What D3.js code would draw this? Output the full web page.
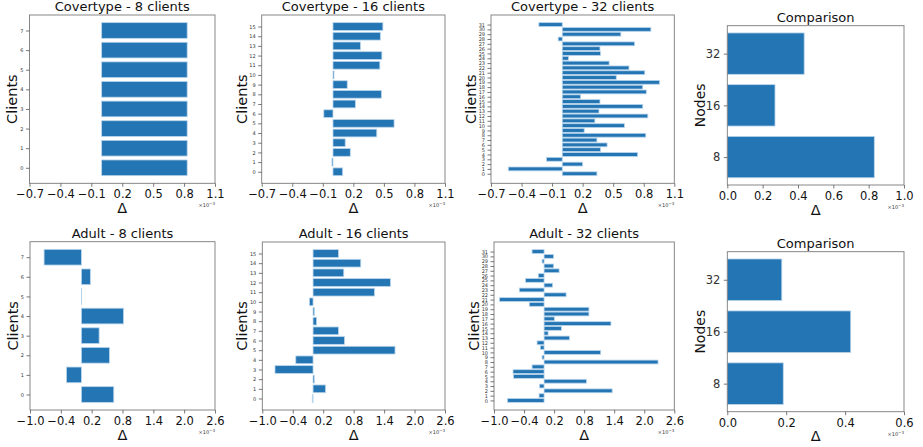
<!DOCTYPE html>
<html>
<head>
<meta charset="utf-8">
<script src="https://cdn.jsdelivr.net/npm/d3@7"></script>
<style>
  body { margin: 0; background: #fff; }
  svg { font-family: "DejaVu Sans", sans-serif; }
</style>
</head>
<body>
<script>
// values, in units of 1e-3
var covertype8 = [0.83, 0.83, 0.83, 0.83, 0.83, 0.83, 0.83, 0.83];
var covertype16 = [0.095, -0.01, 0.17, 0.12, 0.43, 0.60, -0.09, 0.22,
                   0.475, 0.14, 0.01, 0.46, 0.48, 0.27, 0.465, 0.49];
var covertype32 = [0.34, -0.53, 0.20, -0.155, 0.74, 0.375, 0.44, 0.34,
                   0.82, 0.215, 0.61, 0.32, 0.84, 0.36, 0.79, 0.37,
                   0.18, 0.825, 0.79, 0.955, 0.53, 0.81, 0.655, 0.46,
                   0.06, 0.375, 0.37, 0.71, -0.04, 0.575, 0.87, -0.23];
var covertypeCompare = [0.832, 0.27, 0.435];

var adult8 = [0.63, -0.29, 0.545, 0.345, 0.82, 0.005, 0.175, -0.726];
var adult16 = [-0.015, 0.245, 0.025, -0.75, -0.34, 1.615, 0.62, 0.50,
               0.07, 0.025, -0.07, 1.21, 1.525, 0.605, 0.94, 0.50];
var adult32 = [-0.73, -0.10, 1.36, -0.09, 0.845, -0.61, -0.62, -0.24,
               2.275, -0.04, 1.13, -0.075, -0.14, 0.505, 0.08, 0.345,
               1.335, 0.205, 0.895, 0.895, -0.295, -0.89, 0.44, -0.495,
               0.17, -0.37, -0.115, 0.30, 0.19, -0.04, 0.19, -0.24];
var adultCompare = [0.19, 0.419, 0.185];

var nodeLabels = ["8", "16", "32"];
var covertypeTicks = [-0.7, -0.4, -0.1, 0.2, 0.5, 0.8, 1.1];
var adultTicks = [-1.0, -0.4, 0.2, 0.8, 1.4, 2.0, 2.6];
var covertypeCompareTicks = [0.0, 0.2, 0.4, 0.6, 0.8, 1.0];
var adultCompareTicks = [0.0, 0.2, 0.4, 0.6];

var W = 923, H = 447;
var barColor = "#2475b3";

var svg = d3.select("body").append("svg")
    .attr("width", W)
    .attr("height", H);

// frame boxes: [left, top, right, bottom]
var panels = [
  { title: "Covertype - 8 clients", values: covertype8, ticks: covertypeTicks, box: [29.5, 15, 215, 183.3] },
  { title: "Covertype - 16 clients", values: covertype16, ticks: covertypeTicks, box: [261.7, 15, 445, 183.3] },
  { title: "Covertype - 32 clients", values: covertype32, ticks: covertypeTicks, box: [491, 15, 674.3, 183.3] },
  { title: "Comparison", values: covertypeCompare, ticks: covertypeCompareTicks, box: [727.3, 25.7, 904, 185], compare: true },
  { title: "Adult - 8 clients", values: adult8, ticks: adultTicks, box: [30, 241.7, 215, 410] },
  { title: "Adult - 16 clients", values: adult16, ticks: adultTicks, box: [262.3, 242, 445, 410] },
  { title: "Adult - 32 clients", values: adult32, ticks: adultTicks, box: [494, 242, 674.3, 410] },
  { title: "Comparison", values: adultCompare, ticks: adultCompareTicks, box: [727.3, 251.7, 904, 411.7], compare: true }
];

panels.forEach(drawPanel);

function drawPanel(p) {
  var x0 = p.box[0], y0 = p.box[1], x1 = p.box[2], y1 = p.box[3];
  var n = p.values.length;
  var span = (n - 1) + 0.8;
  var pad = 0.05 * span;

  var x = d3.scaleLinear()
      .domain([p.ticks[0], p.ticks[p.ticks.length - 1]])
      .range([x0, x1]);
  var y = d3.scaleLinear()
      .domain([-0.4 - pad, n - 1 + 0.4 + pad])
      .range([y1, y0]);

  var g = svg.append("g");

  // bars
  g.selectAll("rect.bar")
    .data(p.values)
    .enter()
    .append("rect")
    .attr("class", "bar")
    .attr("x", function(d) { return x(Math.min(0, d)); })
    .attr("width", function(d) { return Math.abs(x(d) - x(0)); })
    .attr("y", function(d, i) { return y(i + 0.4); })
    .attr("height", function(d, i) { return y(i - 0.4) - y(i + 0.4); })
    .style("fill", barColor)
    .style("stroke", "#b9d5ec")
    .style("stroke-width", 0.8);

  // frame
  g.append("rect")
    .attr("x", x0).attr("y", y0)
    .attr("width", x1 - x0).attr("height", y1 - y0)
    .style("fill", "none")
    .style("stroke", "#7a7a7a")
    .style("stroke-width", 0.9);

  var fmt = d3.format(".1f");
  var xAxis = g.append("g")
    .attr("transform", "translate(0," + y1 + ")")
    .call(d3.axisBottom(x).tickValues(p.ticks).tickFormat(fmt).tickSize(3.5).tickPadding(3.5));
  xAxis.select(".domain").remove();
  xAxis.selectAll("line").style("stroke", "#555").style("stroke-width", 0.8);
  xAxis.selectAll("text")
    .style("font-family", "DejaVu Sans")
    .style("font-size", "11.5px")
    .style("fill", "#111");

  var yAxis = g.append("g")
    .attr("transform", "translate(" + x0 + ",0)")
    .call(d3.axisLeft(y)
      .tickValues(d3.range(n))
      .tickFormat(function(i) { return p.compare ? nodeLabels[i] : i; })
      .tickSize(3.5)
      .tickPadding(p.compare ? 3.5 : 2.5));
  yAxis.select(".domain").remove();
  yAxis.selectAll("line").style("stroke", "#555").style("stroke-width", 0.8);
  yAxis.selectAll("text")
    .style("font-family", "DejaVu Sans")
    .style("font-size", p.compare ? "11.5px" : "5px")
    .style("fill", "#333");

  // title
  g.append("text")
    .attr("x", (x0 + x1) / 2)
    .attr("y", y0 - 4)
    .attr("text-anchor", "middle")
    .style("font-size", "13px")
    .style("fill", "#111")
    .text(p.title);

  // x label
  g.append("text")
    .attr("x", (x0 + x1) / 2)
    .attr("y", y1 + 29.5)
    .attr("text-anchor", "middle")
    .style("font-size", "14.5px")
    .style("fill", "#111")
    .text("Δ");

  // y label
  var ly = (y0 + y1) / 2;
  var lx = p.compare ? x0 - 22 : x0 - (n > 8 ? 15 : 12.5);
  g.append("text")
    .attr("transform", "translate(" + lx + "," + ly + ") rotate(-90)")
    .attr("text-anchor", "middle")
    .style("font-size", p.compare ? "14px" : "14.5px")
    .style("fill", "#111")
    .text(p.compare ? "Nodes" : "Clients");

  // offset text
  var off = g.append("text")
    .attr("x", x1)
    .attr("y", y1 + 24)
    .attr("text-anchor", "end")
    .style("font-size", "5px")
    .style("fill", "#333");
  off.append("tspan").text("×10");
  off.append("tspan").attr("dy", -2).style("font-size", "4px").text("−3");
}
</script>
</body>
</html>
